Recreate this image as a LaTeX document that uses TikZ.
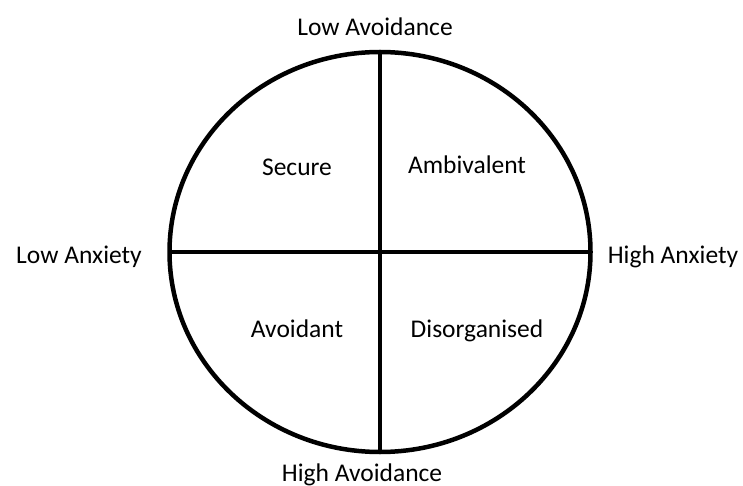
\documentclass[tikz,border=0pt]{standalone}
\usepackage{fontspec}
\setmainfont{Carlito}
\usetikzlibrary{shapes.geometric}
\begin{document}
\begin{tikzpicture}[x=1pt,y=-1pt,line join=round,line cap=butt]
			\tikzset{every node/.style={font=\fontsize{25.5}{30}\selectfont},
				lbl/.style={anchor=base,inner sep=0pt}}
			\useasboundingbox (0,0) rectangle (743,486);
			\node[draw,ellipse,line width=4.5pt,minimum width=421pt,minimum height=400pt,inner sep=0pt,outer sep=0pt] (circ) at (380,252) {};
			\draw[line width=3.8pt] (circ.north)--(circ.south);
			\draw[line width=3.8pt] (circ.west)--(circ.east);
			% axis labels
			\node[lbl] (lowav) at (375,36) {Low Avoidance};
			\node[lbl] (highav) at (362,481) {High Avoidance};
			\node[lbl] (lowanx) at (79,263) {Low Anxiety};
			\node[lbl] (highanx) at (673,263) {High Anxiety};
			% quadrant labels
			\node[lbl] (secure) at (297,176) {Secure};
			\node[lbl] (ambi) at (467,174) {Ambivalent};
			\node[lbl] (avoid) at (297,337) {Avoidant};
			\node[lbl] (disorg) at (477,337) {Disorganised};
		\end{tikzpicture}
\end{document}
